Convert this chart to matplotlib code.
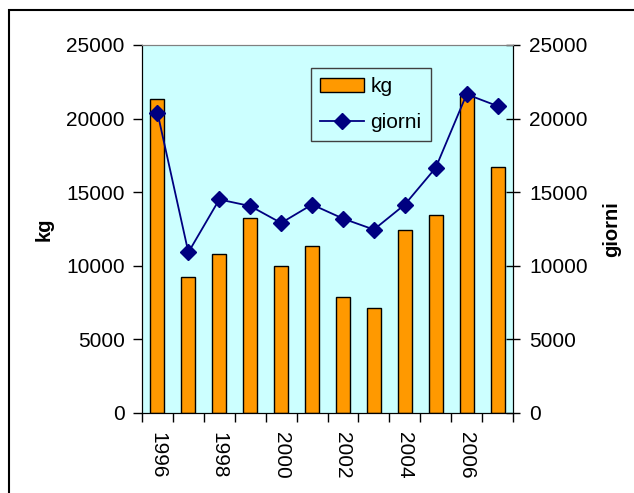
import matplotlib
matplotlib.use("Agg")
import matplotlib.pyplot as plt
from matplotlib.patches import Rectangle
from matplotlib.lines import Line2D
from matplotlib.patches import Patch
import numpy as np

plt.rcParams['font.family'] = ['Liberation Sans', 'DejaVu Sans']

years = [1996, 1997, 1998, 1999, 2000, 2001, 2002, 2003, 2004, 2005, 2006, 2007]
kg = [21300, 9200, 10800, 13250, 10000, 11300, 7850, 7150, 12450, 13450, 21500, 16700]
giorni = [20400, 10900, 14500, 14050, 12900, 14150, 13200, 12450, 14150, 16650, 21650, 20850]
yticks = [0, 5000, 10000, 15000, 20000, 25000]

fig = plt.figure(figsize=(6.34, 4.93), dpi=100)
ax = fig.add_axes([142/634, 1-412.7/493, (513-142)/634, (412.7-45)/493])
ax2 = ax.twinx()

x = np.arange(len(years))
ax.set_facecolor('#CCFFFF')
ax.bar(x, kg, width=0.4545, color='#FF9900', edgecolor='black', linewidth=1.0, zorder=2)
ax2.plot(x, giorni, color='#000080', marker='D', markersize=8.5, linewidth=1.3,
         markerfacecolor='#000080', markeredgecolor='#000080', zorder=3)

for a in (ax, ax2):
    a.set_xlim(-0.5, len(years) - 0.5)
    a.set_ylim(0, 25000)
    a.set_yticks(yticks)
    a.spines['top'].set_color('#808080')
    a.spines['left'].set_color('black')
    a.spines['right'].set_color('black')
    a.spines['bottom'].set_color('black')
ax2.patch.set_visible(False)

ax.tick_params(axis='y', direction='out', length=6.5, width=1, pad=6, labelsize=15)
ax2.tick_params(axis='y', direction='inout', length=9.5, width=1, pad=7, labelsize=15)

ax.set_xticks(np.arange(-0.5, len(years), 1.0))
ax.set_xticklabels([])
ax.set_xticks(x[::2], minor=True)
ax.set_xticklabels([str(y) for y in years[::2]], minor=True, rotation=-90, fontsize=15)
ax.tick_params(axis='x', which='major', direction='out', length=6.5, width=1)
ax.tick_params(axis='x', which='minor', length=0, pad=14)

ax.set_ylabel('kg', fontsize=14.5, fontweight='bold', labelpad=9)
ax2.set_ylabel('giorni', fontsize=14.5, fontweight='bold', labelpad=10, rotation=90)

handles = [Patch(facecolor='#FF9900', edgecolor='black', linewidth=1.0),
           Line2D([0], [0], color='#000080', marker='D', markersize=8.5, linewidth=1.3)]
leg = ax2.legend(handles, ['kg', 'giorni'], loc='upper left', bbox_to_anchor=(0.455, 0.9375),
                 fontsize=15, frameon=True, fancybox=False, facecolor='#CCFFFF',
                 edgecolor='#404040', framealpha=1, handlelength=2.1, handleheight=0.6,
                 borderpad=0.45, labelspacing=0.8, handletextpad=0.3, borderaxespad=0)
leg.get_frame().set_linewidth(1.0)

fig.patches.append(Rectangle((9/634, -0.2), 2, 1.2 - 10/493, transform=fig.transFigure,
                             fill=False, edgecolor='black', linewidth=1.5))

fig.savefig('out.png', dpi=100)
